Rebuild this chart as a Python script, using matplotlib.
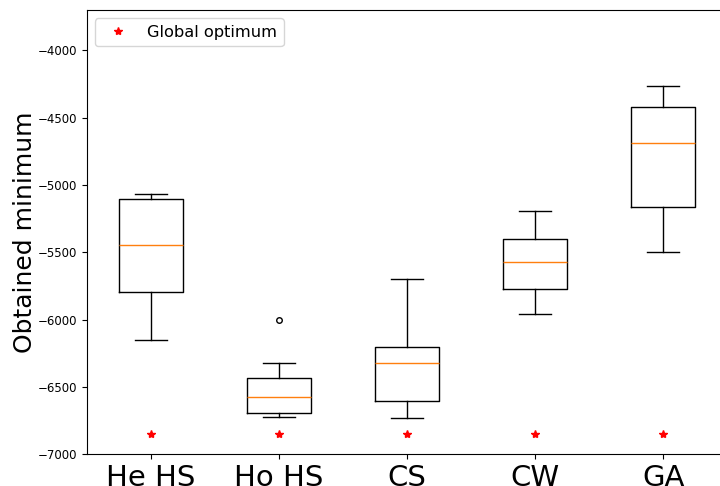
import matplotlib
matplotlib.use('Agg')
import matplotlib.pyplot as plt

# Подписи и статистики боксплотов
labels = ['He HS', 'Ho HS', 'CS', 'CW', 'GA']
whislo = [-6154, -6725, -6728, -5956, -5501]
q1 = [-5797, -6695, -6601, -5770, -5167]
med = [-5444, -6572, -6325, -5570, -4685]
q3 = [-5105, -6433, -6206, -5402, -4423]
whishi = [-5066, -6322, -5696, -5192, -4267]
fliers = [[], [-6005], [], [], []]
global_optimum = -6850


def main():
    stats = []
    for i in range(len(labels)):
        stats.append({
            'label': labels[i],
            'whislo': whislo[i], 'q1': q1[i], 'med': med[i],
            'q3': q3[i], 'whishi': whishi[i], 'fliers': fliers[i],
        })

    fig = plt.figure(figsize=(7.2, 4.86), dpi=100)
    ax = fig.add_axes([0.121, 0.065, 0.889, 0.914])
    ax.bxp(stats, positions=range(1, len(labels) + 1), showfliers=True,
           flierprops=dict(markersize=4))

    # Глобальный оптимум
    xs = list(range(1, len(labels) + 1))
    ax.plot(xs, [global_optimum] * len(xs), 'r*', linestyle='none', label='Global optimum')

    ax.set_xlim(0.5, 5.5)
    ax.set_ylim(-7000, -3703)
    ax.set_xticks(xs)
    ax.set_xticklabels(labels, fontsize=21)
    ax.tick_params(axis='y', labelsize=8.5)
    ax.set_ylabel('Obtained minimum', fontsize=18, labelpad=1)
    ax.legend(loc='upper left', fontsize=11.7)

    fig.savefig('out.png', dpi=100)


if __name__ == "__main__":
    main()
